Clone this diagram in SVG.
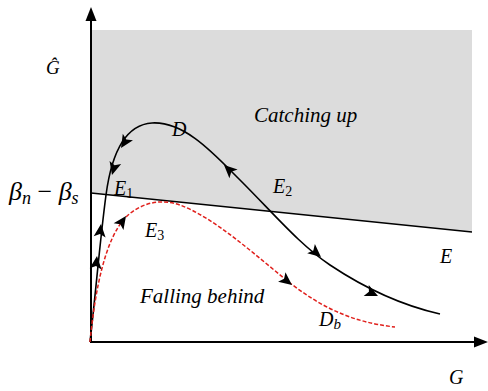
<svg xmlns="http://www.w3.org/2000/svg" width="488" height="391" viewBox="0 0 488 391">
<style>
.ax{stroke:#000;stroke-width:2;fill:none}
.cv{stroke:#000;stroke-width:1.6;fill:none}
.rd{stroke:#e0201c;stroke-width:1.5;fill:none;stroke-dasharray:4 2}
.t{font-family:"Liberation Serif",serif;font-style:italic;fill:#000}
</style>
<defs>
<path id="ah" d="M0,0 L-13,-6 L-10,0 L-13,6 Z"/>
</defs>
<rect width="488" height="391" fill="#fff"/>
<g id="regions">
<polygon points="91,30 472,30 472,232 91,193" fill="#dcdcdc"/>
<line x1="91" y1="193" x2="472" y2="232" class="cv" stroke-width="1.5"/>
</g>
<g id="axes">
<line x1="91" y1="342" x2="91" y2="18" class="ax"/>
<path d="M91,7 L85.5,21 L96.5,21 Z"/>
<line x1="90" y1="342" x2="478" y2="342" class="ax"/>
<path d="M488,342 L474,336.5 L474,347.5 Z"/>
</g>
<g id="connectors">
<path class="cv" d="M90,342 C96,290 100,240 106,195 C110,165 120,125 152,123 C185,121 215,155 240,180 C275,215 300,245 330,265 C360,285 400,305 440,314"/>
<path class="rd" d="M90,342 C95,290 105,240 125,218 C140,203 160,198 180,205 C215,218 255,255 290,283 C320,306 350,322 395,327"/>
<use href="#ah" transform="translate(97,256) rotate(-84)"/>
<use href="#ah" transform="translate(101,224) rotate(-84)"/>
<use href="#ah" transform="translate(112,175) rotate(105)"/>
<use href="#ah" transform="translate(121,148) rotate(122)"/>
<use href="#ah" transform="translate(224,165) rotate(-137)"/>
<use href="#ah" transform="translate(321,257) rotate(40)"/>
<use href="#ah" transform="translate(378,296) rotate(25)"/>
<use href="#ah" transform="translate(126,216) rotate(-55)"/>
<use href="#ah" transform="translate(292,285) rotate(38)"/>
</g>
<g id="labels">
<text class="t" x="46" y="74" font-size="19">Ĝ</text>
<text class="t" x="9" y="200" font-size="26">β<tspan font-size="18" dy="4">n</tspan><tspan dy="-4" font-style="normal"> − </tspan>β<tspan font-size="18" dy="4">s</tspan></text>
<text class="t" x="114" y="195" font-size="20">E<tspan font-size="14" dy="3" font-style="normal">1</tspan></text>
<text class="t" x="145" y="237" font-size="20">E<tspan font-size="14" dy="3" font-style="normal">3</tspan></text>
<text class="t" x="273" y="193" font-size="20">E<tspan font-size="14" dy="3" font-style="normal">2</tspan></text>
<text class="t" x="172" y="136" font-size="20">D</text>
<text class="t" x="440" y="263" font-size="20">E</text>
<text class="t" x="319" y="326" font-size="20">D<tspan font-size="15" dy="3">b</tspan></text>
<text class="t" x="449" y="384" font-size="20">G</text>
<text class="t" x="254" y="122" font-size="21">Catching up</text>
<text class="t" x="140" y="303" font-size="21">Falling behind</text>
</g>
</svg>
